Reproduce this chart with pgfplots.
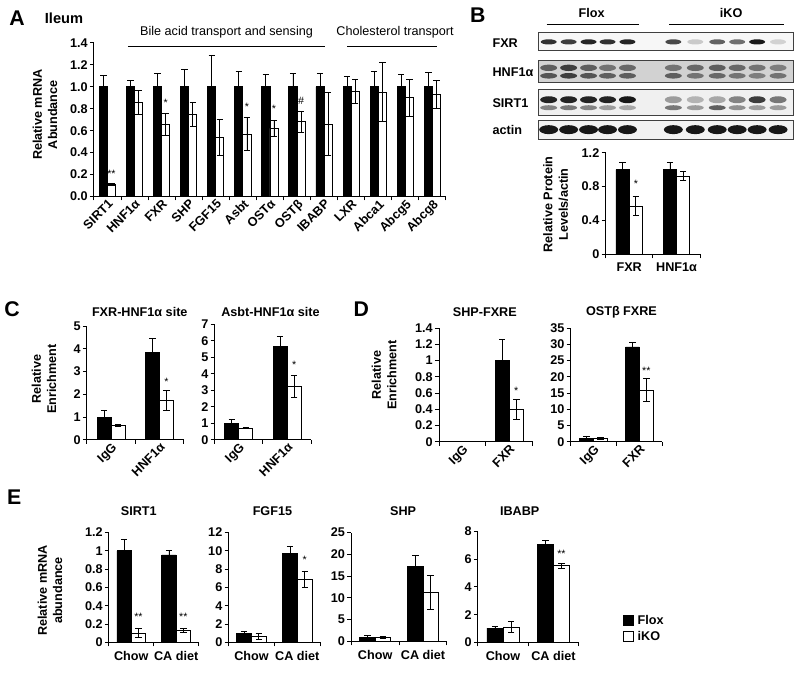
\documentclass[border=0pt]{standalone}
\usepackage{fontspec}
\setmainfont{Liberation Sans}
\usepackage{pgfplots}
\usepackage{pgfplotstable}
\pgfplotsset{compat=1.18}

\pgfplotsset{
  pos/.style 2 args={at={({#1*0.75pt},{-#2*0.75pt})}},
  panel/.style={
    scale only axis, anchor=south west,
    axis lines*=left,
    axis line style={line width=0.7pt},
    ymin=0, xmin=0.5, xmax=2.5,
    tick align=outside, major tick length=3pt,
    tick style={line width=0.7pt, black},
    xtick={0.5,1.5,2.5}, xticklabels={},
    extra x ticks={1,2},
    tick label style={font=\bfseries\fontsize{9.5}{11}\selectfont},
    /pgf/number format/assume math mode=true,
    yticklabel style={inner sep=1.5pt},
    clip=false,
  },
  rotlabels/.style={extra x tick style={major tick length=0pt,
      xticklabel style={rotate=45, anchor=north east, inner sep=1pt}}},
  flatlabels/.style={extra x tick style={major tick length=0pt,
      xticklabel style={anchor=north, yshift=-3pt}}},
  % bars are drawn at their own x (group centre -/+ half a bar), so the error bars sit on them
  flox/.style={ybar, bar width=#1, bar shift=0pt, fill=black, draw=black,
    line width=0.6pt, error bars/.cd, y dir=both, y explicit,
    error bar style={line width=0.6pt, black},
    error mark options={rotate=90, mark size=2.4pt, line width=0.6pt, black}},
  iko/.style={ybar, bar width=#1, bar shift=0pt, fill=white, draw=black,
    line width=0.6pt, error bars/.cd, y dir=both, y explicit,
    error bar style={line width=0.6pt, black},
    error mark options={rotate=90, mark size=2.4pt, line width=0.6pt, black}},
}
\newcommand\lab{\bfseries\fontsize{9.5}{11.5}\selectfont}
\newcommand\sig{\fontsize{8}{9}\selectfont}

% panel A: ileum mRNA (Flox value and error, iKO value and error)
\pgfplotstableread{
x  f  fe   k    ke
1  1  0.10 0.11 0.01
2  1  0.06 0.86 0.11
3  1  0.12 0.66 0.10
4  1  0.16 0.75 0.11
5  1  0.29 0.54 0.165
6  1  0.14 0.57 0.15
7  1  0.11 0.62 0.07
8  1  0.12 0.68 0.10
9  1  0.12 0.66 0.29
10 1  0.09 0.96 0.11
11 1  0.14 0.95 0.27
12 1  0.11 0.90 0.17
13 1  0.13 0.93 0.13
}\tabA

\begin{document}
\begin{tikzpicture}[x=0.75pt, y=-0.75pt]
\path (0,0) rectangle (800,675);

% ---------------- A ----------------
\begin{axis}[panel, rotlabels, pos={92}{197}, width=264.75pt, height=115.5pt,
  xmin=0.5, xmax=13.5, ymax=1.4,
  xtick={0.5,1.5,...,13.5},
  extra x ticks={1,...,13},
  extra x tick labels={SIRT1,HNF1α,FXR,SHP,FGF15,Asbt,OSTα,OSTβ,IBABP,LXR,Abca1,Abcg5,Abcg8},
  ytick={0,0.2,...,1.4},
  yticklabel style={/pgf/number format/.cd, fixed, fixed zerofill, precision=1},
]
\addplot[flox=0.3] table[x expr=\thisrow{x}-0.15, y=f, y error=fe] {\tabA};
\addplot[iko=0.3] table[x expr=\thisrow{x}+0.15, y=k, y error=ke] {\tabA};
\node[font=\sig] at (axis cs:1.15,0.21) {**};
\node[font=\sig] at (axis cs:3.15,0.85) {*};
\node[font=\sig] at (axis cs:6.15,0.82) {*};
\node[font=\sig] at (axis cs:7.15,0.80) {*};
\node[font=\sig] at (axis cs:8.15,0.87) {\#};
\end{axis}
\node[font=\bfseries\fontsize{16}{18}\selectfont] at (15,18) {A};
\node[font=\bfseries\fontsize{11}{13}\selectfont] at (62,18) {Ileum};
\node[font=\fontsize{9.5}{11}\selectfont] at (225,32) {Bile acid transport and sensing};
\draw[line width=0.6pt] (126,47) -- (324,47);
\node[font=\fontsize{9.5}{11}\selectfont] at (394,32) {Cholesterol transport};
\draw[line width=0.6pt] (346,47) -- (436,47);
\node[font=\lab, rotate=90, align=center] at (43,115) {Relative mRNA\\Abundance};

% ---------------- B ----------------
\fill[gray!6] (538,32) rectangle (793,51);
\fill[gray!35] (538,61) rectangle (793,83);
\fill[gray!12] (538,90) rectangle (793,116);
\fill[gray!10] (538,121) rectangle (793,140);
\foreach \x/\o in {548/0.8,568/0.75,588/0.85,607/0.8,627/0.85,673/0.7,695/0.18,717/0.6,737/0.55,757/0.9,778/0.15}
  \fill[black, opacity=\o] (\x,42) ellipse [x radius=8, y radius=2.6];
\foreach \x/\o in {548/0.55,568/0.7,588/0.55,607/0.45,627/0.5,673/0.45,695/0.5,717/0.55,737/0.5,757/0.45,778/0.4}
  \fill[black, opacity=\o] (\x,68) ellipse [x radius=8.5, y radius=3.2];
\foreach \x/\o in {548/0.6,568/0.7,588/0.6,607/0.55,627/0.55,673/0.55,695/0.45,717/0.5,737/0.45,757/0.4,778/0.45}
  \fill[black, opacity=\o] (\x,76) ellipse [x radius=8.5, y radius=2.8];
\foreach \x/\o in {548/0.85,568/0.85,588/0.85,607/0.85,627/0.9,673/0.35,695/0.25,717/0.3,737/0.45,757/0.75,778/0.5}
  \fill[black, opacity=\o] (\x,100) ellipse [x radius=8.5, y radius=3.5];
\foreach \x/\o in {548/0.45,568/0.5,588/0.45,607/0.35,627/0.3,673/0.5,695/0.35,717/0.6,737/0.4,757/0.35,778/0.35}
  \fill[black, opacity=\o] (\x,108) ellipse [x radius=8.5, y radius=2.5];
\foreach \x in {548,568,588,607,627,673,695,717,737,757,778}
  \fill[black, opacity=0.9] (\x,130) ellipse [x radius=9.5, y radius=4.5];
\foreach \ya/\yb in {32/51, 61/83, 90/116, 121/140}
  \draw[gray!50!black, line width=0.6pt] (538,\ya) rectangle (793,\yb);
\node[font=\lab, anchor=west] at (487,43) {FXR};
\node[font=\lab, anchor=west] at (487,72) {HNF1α};
\node[font=\lab, anchor=west] at (487,103) {SIRT1};
\node[font=\lab, anchor=west] at (487,130) {actin};
\node[font=\lab] at (591,13) {Flox};
\draw[line width=0.6pt] (546,24) -- (639,24);
\node[font=\lab] at (731,13) {iKO};
\draw[line width=0.6pt] (669,24) -- (784,24);
\node[font=\bfseries\fontsize{16}{18}\selectfont] at (477,15) {B};

\begin{axis}[panel, flatlabels, pos={605}{255}, width=71.25pt, height=76.5pt,
  ymax=1.2, ytick={0,0.4,0.8,1.2},
  extra x tick labels={FXR,HNF1α}]
\addplot[flox=0.28] coordinates {(0.86,1.0) +- (0,0.08) (1.86,1.0) +- (0,0.08)};
\addplot[iko=0.28] coordinates {(1.14,0.57) +- (0,0.11) (2.14,0.925) +- (0,0.05)};
\node[font=\sig] at (axis cs:1.14,0.83) {*};
\end{axis}
\node[font=\lab, rotate=90, align=center] at (555,205) {Relative Protein\\Levels/actin};

% ---------------- C ----------------
\node[font=\bfseries\fontsize{16}{18}\selectfont] at (10,310) {C};
\node[font=\lab, rotate=90, align=center] at (42,380) {Relative\\Enrichment};
\node[font=\lab] at (138,313) {FXR-HNF1α site};
\begin{axis}[panel, rotlabels, pos={85}{441}, width=72.75pt, height=85.5pt,
  ymax=5, ytick={0,...,5},
  extra x tick labels={IgG,HNF1α}]
\addplot[flox=0.29] coordinates {(0.855,1.0) +- (0,0.3) (1.855,3.84) +- (0,0.62)};
\addplot[iko=0.29] coordinates {(1.145,0.64) +- (0,0.04) (2.145,1.72) +- (0,0.44)};
\node[font=\sig] at (axis cs:2.145,2.55) {*};
\end{axis}
\node[font=\lab] at (269,313) {Asbt-HNF1α site};
\begin{axis}[panel, rotlabels, pos={213}{441}, width=72.75pt, height=87pt,
  ymax=7, ytick={0,...,7},
  extra x tick labels={IgG,HNF1α}]
\addplot[flox=0.29] coordinates {(0.855,1.0) +- (0,0.24) (1.855,5.65) +- (0,0.58)};
\addplot[iko=0.29] coordinates {(1.145,0.72) +- (0,0.04) (2.145,3.25) +- (0,0.67)};
\node[font=\sig] at (axis cs:2.145,4.55) {*};
\end{axis}

% ---------------- D ----------------
\node[font=\bfseries\fontsize{16}{18}\selectfont] at (360,310) {D};
\node[font=\lab, rotate=90, align=center] at (383,376) {Relative\\Enrichment};
\node[font=\lab] at (484,313) {SHP-FXRE};
\begin{axis}[panel, rotlabels, pos={438}{443}, width=70.5pt, height=85.5pt,
  ymax=1.4, ytick={0,0.2,...,1.4},
  extra x tick labels={IgG,FXR}]
\addplot[flox=0.3] coordinates {(1.85,1.0) +- (0,0.26)};
\addplot[iko=0.3] coordinates {(2.15,0.40) +- (0,0.12)};
\node[font=\sig] at (axis cs:2.15,0.63) {*};
\end{axis}
\node[font=\lab] at (621,313) {OSTβ FXRE};
\begin{axis}[panel, rotlabels, pos={570}{443}, width=69pt, height=85.5pt,
  ymax=35, ytick={0,5,...,35},
  extra x tick labels={IgG,FXR}]
\addplot[flox=0.3] coordinates {(0.85,1.0) +- (0,0.8) (1.85,29.2) +- (0,1.4)};
\addplot[iko=0.3] coordinates {(1.15,1.0) +- (0,0.35) (2.15,15.9) +- (0,3.5)};
\node[font=\sig] at (axis cs:2.15,22) {**};
\end{axis}

% ---------------- E ----------------
\node[font=\bfseries\fontsize{16}{18}\selectfont] at (12,499) {E};
\node[font=\lab, rotate=90, align=center] at (48,592) {Relative mRNA\\abundance};
\node[font=\lab] at (137,513) {SIRT1};
\begin{axis}[panel, flatlabels, pos={107}{644}, width=67.5pt, height=82.5pt,
  ymax=1.2, ytick={0,0.2,...,1.2},
  extra x tick labels={Chow,CA diet}]
\addplot[flox=0.32] coordinates {(0.84,1.0) +- (0,0.12) (1.84,0.955) +- (0,0.05)};
\addplot[iko=0.32] coordinates {(1.16,0.10) +- (0,0.05) (2.16,0.128) +- (0,0.025)};
\node[font=\sig] at (axis cs:1.16,0.28) {**};
\node[font=\sig] at (axis cs:2.16,0.28) {**};
\end{axis}
\node[font=\lab] at (271,513) {FGF15};
\begin{axis}[panel, flatlabels, pos={227}{644}, width=69pt, height=82.5pt,
  ymax=12, ytick={0,2,...,12},
  extra x tick labels={Chow,CA diet}]
\addplot[flox=0.32] coordinates {(0.84,0.98) +- (0,0.22) (1.84,9.67) +- (0,0.87)};
\addplot[iko=0.32] coordinates {(1.16,0.69) +- (0,0.32) (2.16,6.9) +- (0,0.9)};
\node[font=\sig] at (axis cs:2.16,9.0) {*};
\end{axis}
\node[font=\lab] at (402,513) {SHP};
\begin{axis}[panel, flatlabels, pos={350}{643}, width=72pt, height=81.75pt,
  ymax=25, ytick={0,5,...,25},
  extra x tick labels={Chow,CA diet}]
\addplot[flox=0.32] coordinates {(0.84,0.95) +- (0,0.35) (1.84,17.3) +- (0,2.5)};
\addplot[iko=0.32] coordinates {(1.16,0.9) +- (0,0.25) (2.16,11.3) +- (0,3.9)};
\end{axis}
\node[font=\lab] at (519,513) {IBABP};
\begin{axis}[panel, flatlabels, pos={477}{644}, width=75.75pt, height=83.25pt,
  ymax=8, ytick={0,2,...,8},
  extra x tick labels={Chow,CA diet}]
\addplot[flox=0.32] coordinates {(0.84,1.02) +- (0,0.12) (1.84,7.04) +- (0,0.3)};
\addplot[iko=0.32] coordinates {(1.16,1.08) +- (0,0.4) (2.16,5.54) +- (0,0.18)};
\node[font=\sig] at (axis cs:2.16,6.36) {**};
\end{axis}

% legend
\draw[fill=black, line width=0.6pt] (623,617) rectangle (633,627);
\node[font=\lab, anchor=west, inner sep=0pt] at (637,622) {Flox};
\draw[fill=white, line width=0.6pt] (623,633) rectangle (633,643);
\node[font=\lab, anchor=west, inner sep=0pt] at (637,638) {iKO};
\end{tikzpicture}
\end{document}
